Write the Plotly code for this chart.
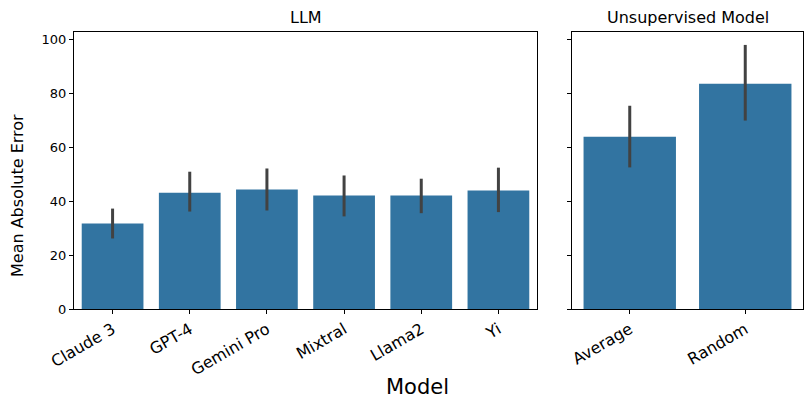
import plotly.graph_objects as go

# LLM panel
llm_models = ["Claude 3", "GPT-4", "Gemini Pro", "Mixtral", "Llama2", "Yi"]
llm_mae = [31.8, 43.2, 44.4, 42.2, 42.2, 44.0]
llm_ci_low = [26.2, 36.2, 36.6, 34.4, 35.6, 36.0]
llm_ci_high = [37.3, 51.0, 52.2, 49.6, 48.4, 52.5]

# Unsupervised panel
unsup_models = ["Average", "Random"]
unsup_mae = [64.0, 83.7]
unsup_ci_low = [52.6, 70.0]
unsup_ci_high = [75.5, 98.1]

y_ticks = [0, 20, 40, 60, 80, 100]

bar_color = "#3274a1"
err_color = "#424242"
font = "DejaVu Sans"

# page body has an 8px margin, so the figure is drawn 8px smaller
W, H = 804, 401


def px_x(v):
    return (v - 8) / W


def px_y(v):
    return 1 - (v - 8) / H


def err(vals, lo, hi):
    return dict(
        type="data",
        symmetric=False,
        array=[h - v for v, h in zip(vals, hi)],
        arrayminus=[v - l for v, l in zip(vals, lo)],
        color=err_color,
        thickness=3,
        width=0,
    )


fig = go.Figure()
fig.add_trace(go.Bar(
    x=llm_models, y=llm_mae, width=0.8,
    marker=dict(color=bar_color, line=dict(width=0)),
    error_y=err(llm_mae, llm_ci_low, llm_ci_high),
    xaxis="x", yaxis="y", showlegend=False,
))
fig.add_trace(go.Bar(
    x=unsup_models, y=unsup_mae, width=0.8,
    marker=dict(color=bar_color, line=dict(width=0)),
    error_y=err(unsup_mae, unsup_ci_low, unsup_ci_high),
    xaxis="x2", yaxis="y2", showlegend=False,
))

axis_common = dict(
    showline=True, linecolor="black", linewidth=1, mirror=True,
    ticks="outside", ticklen=4, tickcolor="black", tickwidth=1,
    showgrid=False, zeroline=False, automargin=False,
)

y_dom = [px_y(309), px_y(32)]

fig.update_layout(
    width=W, height=H,
    margin=dict(l=0, r=0, t=0, b=0),
    plot_bgcolor="white", paper_bgcolor="white",
    font=dict(family=font, color="black", size=13),
    bargap=0.2,
    xaxis=dict(domain=[px_x(74), px_x(537)], range=[-0.5, 5.5],
               tickangle=-30, tickfont=dict(size=16), **axis_common),
    xaxis2=dict(domain=[px_x(572), px_x(803)], range=[-0.5, 1.5],
                tickangle=-30, tickfont=dict(size=16), **axis_common),
    yaxis=dict(domain=y_dom, range=[0, 102.9],
               tickvals=y_ticks, tickfont=dict(size=13), anchor="x", **axis_common),
    yaxis2=dict(domain=y_dom, range=[0, 102.9],
                tickvals=y_ticks, showticklabels=False, anchor="x2",
                matches="y", **axis_common),
    annotations=[
        dict(text="LLM", x=px_x(305.5), y=px_y(17.5), xref="paper", yref="paper",
             showarrow=False, font=dict(size=16), xanchor="center", yanchor="middle"),
        dict(text="Unsupervised Model", x=px_x(687.5), y=px_y(17.5),
             xref="paper", yref="paper", showarrow=False, font=dict(size=16),
             xanchor="center", yanchor="middle"),
        dict(text="Model", x=px_x(417), y=px_y(387), xref="paper", yref="paper",
             showarrow=False, font=dict(size=21), xanchor="center", yanchor="middle"),
        dict(text="Mean Absolute Error", x=px_x(17), y=px_y(196),
             xref="paper", yref="paper", showarrow=False, font=dict(size=16),
             textangle=-90, xanchor="center", yanchor="middle"),
    ],
)

fig.write_html("out.html")
